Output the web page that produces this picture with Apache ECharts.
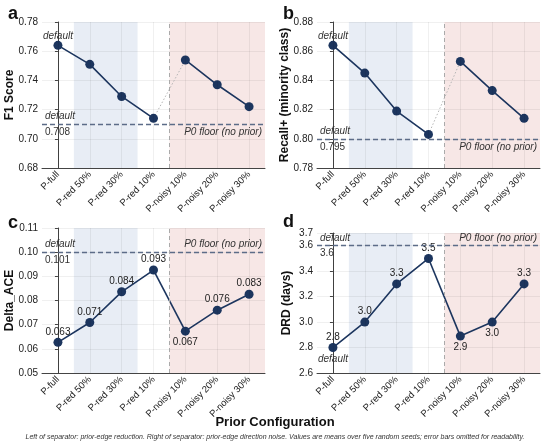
<!DOCTYPE html>
<html>
<head>
<meta charset="utf-8">
<script src="https://cdn.jsdelivr.net/npm/echarts@6/dist/echarts.min.js"></script>
<style>
  html, body { margin: 0; padding: 0; background: #fff; }
  #chart { width: 550px; height: 444px; }
</style>
</head>
<body>
<div id="chart"></div>
<script>
// values
const categories = ['P-full', 'P-red 50%', 'P-red 30%', 'P-red 10%', 'P-noisy 10%', 'P-noisy 20%', 'P-noisy 30%'];
const f1Score    = [0.764, 0.751, 0.729, 0.714, 0.754, 0.737, 0.722];
const recallPlus = [0.864, 0.845, 0.819, 0.803, 0.853, 0.833, 0.814];
const deltaAce   = [0.0627, 0.0709, 0.0836, 0.0926, 0.0673, 0.0760, 0.0826];
const drdDays    = [2.80, 3.00, 3.30, 3.50, 2.89, 3.00, 3.30];
// P0 floor (no prior) baselines
const f1Floor     = 0.708;
const recallFloor = 0.795;
const aceFloor    = 0.1006;
const drdFloor    = 3.6;
// separator sits between P-red 10% and P-noisy 10%
const SPLIT = 4;

const NAVY  = '#1c355e';
const FLOOR = '#5c6c88';
const TXT   = '#222';
const GRID  = 'rgba(0,0,0,0.08)';
const FONT  = '"Liberation Sans", Arial, sans-serif';

const panels = [
  { letter: 'a', grid: { left: 42, top: 22, width: 223, height: 146 },
    min: 0.68, max: 0.78, step: 0.02, digits: 2, name: 'F1 Score', nameGap: 26,
    values: f1Score, floor: f1Floor, floorDigits: 3, p0Pos: 'insideEndBottom',
    dottedBridge: true, showValues: false, below: [], defaultPos: 'top' },
  { letter: 'b', grid: { left: 317, top: 22, width: 223, height: 146 },
    min: 0.78, max: 0.88, step: 0.02, digits: 2, name: 'Recall+ (minority class)', nameGap: 26,
    values: recallPlus, floor: recallFloor, floorDigits: 3, p0Pos: 'insideEndBottom',
    dottedBridge: true, showValues: false, below: [], defaultPos: 'top' },
  { letter: 'c', grid: { left: 42, top: 228, width: 223, height: 145 },
    min: 0.05, max: 0.11, step: 0.01, digits: 2, name: 'Delta_ACE', nameGap: 26,
    values: deltaAce, floor: aceFloor, floorDigits: 3, p0Pos: 'insideEndTop',
    dottedBridge: false, showValues: true, valueDigits: 3, below: [4], defaultPos: null },
  { letter: 'd', grid: { left: 317, top: 233, width: 223, height: 140 },
    min: 2.6, max: 3.7, step: 0.2, digits: 1, name: 'DRD (days)', nameGap: 24,
    values: drdDays, floor: drdFloor, floorDigits: 1, p0Pos: 'insideEndTop',
    dottedBridge: false, showValues: true, valueDigits: 1, below: [4, 5], defaultPos: 'bottom' },
];

const grids = [], xCat = [], xVal = [], yAxes = [], series = [];

const italic = { fontStyle: 'italic', fontSize: 10, color: '#333', fontFamily: FONT };
const HIDDEN = 'rgba(0,0,0,0)';

panels.forEach((p, i) => {
  grids.push(p.grid);

  xCat.push({
    type: 'category', gridIndex: i, data: categories, boundaryGap: true, z: 2,
    axisLine: { lineStyle: { color: '#444', width: 1 } },
    axisTick: { alignWithLabel: true, length: 3, lineStyle: { color: '#444' } },
    axisLabel: { rotate: 45, fontSize: 9.5, color: TXT, fontFamily: FONT, margin: 5, interval: 0 },
    splitLine: { show: false },
  });
  // hidden linear twin of the category axis: band shading, separator, vertical grid
  xVal.push({ type: 'value', gridIndex: i, min: -0.5, max: categories.length - 0.5, show: false });

  yAxes.push({
    type: 'value', gridIndex: i, min: p.min, max: p.max, interval: p.step, z: 2,
    name: p.name, nameLocation: 'middle', nameGap: p.nameGap, nameMoveOverlap: false,
    nameTextStyle: { fontSize: 12, fontWeight: 'bold', color: '#111', fontFamily: FONT },
    axisLine: { show: true, lineStyle: { color: '#444', width: 1 } },
    axisTick: { show: true, length: 3, lineStyle: { color: '#444' } },
    axisLabel: { fontSize: 10, color: TXT, fontFamily: FONT, margin: 4,
      formatter: v => v.toFixed(p.digits) },
    splitLine: { show: true, lineStyle: { color: GRID, width: 0.8 } },
  });

  // background: shaded bands
  series.push({
    type: 'line', xAxisIndex: 4 + i, yAxisIndex: i, data: [], silent: true, z: 1,
    markArea: {
      silent: true,
      data: [
        [{ xAxis: 0.5, itemStyle: { color: '#e8edf5' } }, { xAxis: 2.5 }],
        [{ xAxis: SPLIT - 0.5, itemStyle: { color: '#f7e7e6' } }, { xAxis: categories.length - 0.5 }],
      ],
    },
  });
  // vertical grid at each category + the dashed separator
  series.push({
    type: 'line', xAxisIndex: 4 + i, yAxisIndex: i, data: [], silent: true, z: 2,
    markLine: {
      silent: true, symbol: 'none', label: { show: false },
      lineStyle: { color: GRID, type: 'solid', width: 0.8 },
      data: [
        ...categories.map((c, k) => ({ xAxis: k })),
        { xAxis: SPLIT - 0.5, lineStyle: { color: '#aaa', type: [4, 3], width: 1 } },
      ],
    },
  });

  const vals = p.values;
  const fmtVal = v => v.toFixed(p.valueDigits || 2);
  const item = (v, k) => p.showValues && p.below.includes(k)
    ? { value: v, label: { position: 'bottom', distance: 2 } } : v;

  const left   = vals.map((v, k) => k < SPLIT ? item(v, k) : null);
  const right  = vals.map((v, k) => k >= SPLIT ? item(v, k) : null);
  const bridge = vals.map((v, k) => (k === SPLIT - 1 || k === SPLIT) ? v : null);

  // connector across the separator: dotted grey in a/b, solid in c/d
  series.push({
    type: 'line', xAxisIndex: i, yAxisIndex: i, data: bridge, symbol: 'none', silent: true, z: 3,
    lineStyle: p.dottedBridge
      ? { color: '#b5b5b5', type: [1.5, 2], width: 1 }
      : { color: NAVY, width: 1.6 },
  });

  const mainStyle = {
    type: 'line', xAxisIndex: i, yAxisIndex: i, z: 4,
    symbol: 'circle', symbolSize: 9,
    itemStyle: { color: NAVY },
    lineStyle: { color: NAVY, width: 1.6 },
    label: { show: p.showValues, position: 'top', distance: 1, fontSize: 10, color: TXT,
      fontFamily: FONT, formatter: d => fmtVal(d.value) },
  };

  const floorLabel = { ...italic, distance: [3, 3] };
  const markLine = {
    silent: true, symbol: 'none',
    lineStyle: { color: FLOOR, type: [5, 3], width: 1.4 },
    data: [
      { yAxis: p.floor, label: { ...floorLabel, formatter: 'default', position: 'insideStartTop' } },
      { yAxis: p.floor, lineStyle: { color: HIDDEN },
        label: { ...floorLabel, fontStyle: 'normal', formatter: p.floor.toFixed(p.floorDigits), position: 'insideStartBottom' } },
      { yAxis: p.floor, lineStyle: { color: HIDDEN },
        label: { ...floorLabel, formatter: 'P0 floor (no prior)', position: p.p0Pos } },
    ],
  };

  const markPoint = p.defaultPos ? {
    silent: true, symbol: 'circle', symbolSize: 1, itemStyle: { color: HIDDEN },
    label: { ...italic, position: p.defaultPos, distance: p.defaultPos === 'top' ? 4 : 6, formatter: 'default' },
    data: [{ coord: [categories[0], vals[0]] }],
  } : undefined;

  series.push({ ...mainStyle, data: left, markLine, markPoint });
  series.push({ ...mainStyle, data: right });
});

const letterStyle = { fontSize: 18, fontWeight: 'bold', color: '#111', fontFamily: FONT };

const chart = echarts.init(document.getElementById('chart'), null, { renderer: 'canvas' });
chart.setOption({
  animation: false,
  backgroundColor: '#fff',
  textStyle: { fontFamily: FONT },
  title: [
    { text: 'a', left: 3, top: 0, textStyle: letterStyle },
    { text: 'b', left: 278, top: 0, textStyle: letterStyle },
    { text: 'c', left: 3, top: 209, textStyle: letterStyle },
    { text: 'd', left: 278, top: 208, textStyle: letterStyle },
    { text: 'Prior Configuration', left: 'center', top: 411,
      textStyle: { fontSize: 13, fontWeight: 'bold', color: '#111', fontFamily: FONT } },
    { text: 'Left of separator: prior-edge reduction. Right of separator: prior-edge direction noise. Values are means over five random seeds; error bars omitted for readability.',
      left: 'center', top: 429,
      textStyle: { fontSize: 7, fontStyle: 'italic', fontWeight: 'normal', color: '#333', fontFamily: FONT } },
  ],
  grid: grids,
  xAxis: [...xCat, ...xVal],
  yAxis: yAxes,
  series,
});
</script>
</body>
</html>
